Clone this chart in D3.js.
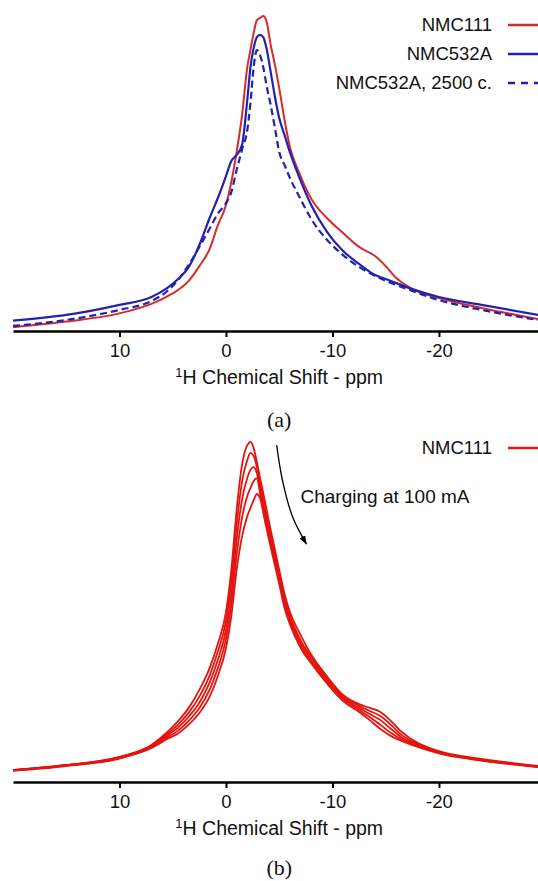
<!DOCTYPE html>
<html>
<head>
<meta charset="utf-8">
<script src="https://cdn.jsdelivr.net/npm/d3@7"></script>
<style>
  body { margin: 0; background: #fff; }
  svg { display: block; }
  text { font-family: "Liberation Sans", Arial, sans-serif; fill: #111; }
  .caption { font-family: "Liberation Serif", "DejaVu Serif", serif; }
</style>
</head>
<body>
<div id="chart"></div>
<script>
// chemical shift grid of panel (a), ppm
let ppmA = [20, 15, 10, 7, 5.5, 4.5, 3.5, 2.5, 1.5, 0.8, 0, -0.5, -1, -1.5, -2, -2.3, -2.6, -2.9, -3.2, -3.5,
            -3.8, -4.2, -4.6, -5, -5.5, -6, -6.8, -8, -9.5, -11, -12.5, -14, -15, -16, -17.5, -20, -24, -29.3];
// intensities, normalised to the NMC111 peak
let nmc111 = [0.012, 0.030, 0.056, 0.086, 0.110, 0.130, 0.159, 0.206, 0.263, 0.333, 0.400, 0.473, 0.568, 0.683, 0.838, 0.892, 0.946, 0.987, 0.994, 1.000,
              0.984, 0.908, 0.844, 0.771, 0.670, 0.585, 0.508, 0.420, 0.358, 0.311, 0.267, 0.238, 0.206, 0.168, 0.133, 0.105, 0.073, 0.038];
let nmc532a = [0.033, 0.051, 0.083, 0.108, 0.137, 0.165, 0.203, 0.273, 0.362, 0.419, 0.492, 0.540, 0.559, 0.590, 0.733, 0.838, 0.898, 0.933, 0.940, 0.933,
               0.898, 0.822, 0.743, 0.676, 0.622, 0.568, 0.495, 0.400, 0.314, 0.254, 0.213, 0.178, 0.165, 0.152, 0.133, 0.108, 0.083, 0.051];
let nmc532a2500 = [0.016, 0.035, 0.067, 0.095, 0.127, 0.162, 0.210, 0.267, 0.327, 0.371, 0.406, 0.441, 0.511, 0.575, 0.638, 0.724, 0.838, 0.892, 0.876, 0.838,
                   0.781, 0.717, 0.644, 0.568, 0.527, 0.486, 0.432, 0.356, 0.289, 0.241, 0.203, 0.175, 0.159, 0.146, 0.127, 0.098, 0.067, 0.035];

// chemical shift grid of panel (b), ppm
let ppmB = [20, 15, 10, 7, 5.5, 4.5, 3.5, 2.5, 1.5, 0.8, 0, -0.5, -1, -1.5, -2, -2.3, -2.6, -2.9, -3.2, -3.6,
            -4, -4.5, -5, -5.5, -6, -7, -8, -9.5, -11, -12.5, -13.5, -14.5, -15.5, -16.5, -18, -20, -24, -29.3];
// NMC111 spectra during charging at 100 mA, first to last
let charge1 = [0.035, 0.050, 0.074, 0.109, 0.147, 0.179, 0.218, 0.271, 0.338, 0.403, 0.500, 0.624, 0.800, 0.932, 0.991, 1.000, 0.982, 0.941, 0.894, 0.835,
               0.771, 0.697, 0.624, 0.553, 0.500, 0.433, 0.375, 0.310, 0.256, 0.229, 0.218, 0.206, 0.179, 0.147, 0.115, 0.091, 0.068, 0.047];
let charge2 = [0.035, 0.050, 0.073, 0.107, 0.142, 0.169, 0.204, 0.251, 0.316, 0.380, 0.474, 0.588, 0.756, 0.882, 0.947, 0.968, 0.959, 0.926, 0.879, 0.821,
               0.757, 0.685, 0.613, 0.543, 0.490, 0.417, 0.368, 0.305, 0.251, 0.224, 0.209, 0.194, 0.168, 0.138, 0.112, 0.089, 0.066, 0.046];
let charge3 = [0.035, 0.049, 0.072, 0.105, 0.137, 0.160, 0.192, 0.233, 0.295, 0.356, 0.447, 0.553, 0.712, 0.829, 0.894, 0.918, 0.926, 0.909, 0.865, 0.806,
               0.744, 0.674, 0.603, 0.532, 0.482, 0.410, 0.362, 0.299, 0.247, 0.218, 0.200, 0.182, 0.156, 0.131, 0.109, 0.088, 0.065, 0.045];
let charge4 = [0.034, 0.048, 0.070, 0.102, 0.132, 0.151, 0.180, 0.218, 0.274, 0.332, 0.421, 0.521, 0.668, 0.776, 0.841, 0.865, 0.885, 0.894, 0.850, 0.791,
               0.731, 0.662, 0.593, 0.522, 0.473, 0.402, 0.355, 0.294, 0.243, 0.212, 0.191, 0.168, 0.144, 0.125, 0.106, 0.086, 0.064, 0.044];
let charge5 = [0.033, 0.047, 0.069, 0.100, 0.127, 0.143, 0.169, 0.203, 0.253, 0.309, 0.394, 0.488, 0.624, 0.721, 0.782, 0.806, 0.829, 0.847, 0.835, 0.776,
               0.718, 0.650, 0.582, 0.512, 0.464, 0.395, 0.349, 0.289, 0.238, 0.206, 0.182, 0.156, 0.135, 0.121, 0.103, 0.084, 0.063, 0.044];

let xTicks = [10, 0, -10, -20];
let legendA = ["NMC111", "NMC532A", "NMC532A, 2500 c."];
let legendB = ["NMC111"];
let arrowNote = "Charging at 100 mA";

let width = 538;
let height = 881;
let redA = "#d42b2b";
let blueA = "#2222b0";
let redB = "#e4140f";

let X = d3.scaleLinear()
  .domain([20, -29.3])            // plot is cut at the right edge of the picture
  .range([13, 538]);
let xMid = X(-5);                 // centre of the full 20 .. -30 ppm axis

let svg = d3.select("#chart")
  .append("svg")
  .attr("width", width)
  .attr("height", height);

function drawAxis(y0, label, caption, captionY)
{
  let g = svg.append("g")
    .attr("transform", "translate(0," + y0 + ")")
    .call(d3.axisBottom(X).tickValues(xTicks).tickSize(6).tickSizeOuter(0).tickPadding(7)
      .tickFormat(function(d) { return String(d); }));    // plain hyphen, as in the original
  g.select(".domain").attr("stroke", "#000").attr("stroke-width", 2.4);
  g.selectAll(".tick line").attr("stroke", "#000").attr("stroke-width", 2);
  g.selectAll(".tick text")
    .style("font-family", "Liberation Sans, Arial, sans-serif")
    .style("font-size", "18.5px")
    .attr("fill", "#111");

  let t = svg.append("text")
    .attr("x", xMid)
    .attr("y", y0 + 53)
    .attr("text-anchor", "middle")
    .style("font-size", "19.5px");
  t.append("tspan").attr("dy", "-7").style("font-size", "13px").text(label[0]);
  t.append("tspan").attr("dy", "7").text(label[1]);

  svg.append("text")
    .attr("class", "caption")
    .attr("x", xMid)
    .attr("y", captionY)
    .attr("text-anchor", "middle")
    .style("font-size", "22px")
    .attr("fill", "#333")
    .text(caption);
}

function drawCurve(ppm, values, Y, color, dash, lw)
{
  let line = d3.line()
    .x(function(d, i) { return X(ppm[i]); })
    .y(function(d) { return Y(d); })
    .curve(d3.curveMonotoneX);
  svg.append("path")
    .datum(values)
    .attr("d", line)
    .attr("fill", "none")
    .attr("stroke", color)
    .attr("stroke-width", lw)
    .attr("stroke-dasharray", dash)
    .attr("stroke-linejoin", "round");
}

function drawLegend(labels, colors, dashes, y0)
{
  labels.forEach(function(name, i) {
    let y = y0 + i * 29;
    svg.append("text")
      .attr("x", 492)
      .attr("y", y)
      .attr("dy", "0.35em")
      .attr("text-anchor", "end")
      .style("font-size", "18.5px")
      .text(name);
    svg.append("line")
      .attr("x1", 508).attr("x2", 545)
      .attr("y1", y).attr("y2", y)
      .attr("stroke", colors[i])
      .attr("stroke-width", 2.6)
      .attr("stroke-dasharray", dashes[i]);
  });
}

// panel (a)
let YA = d3.scaleLinear().domain([0, 1]).range([331, 16]);
drawCurve(ppmA, nmc111, YA, redA, null, 2);
drawCurve(ppmA, nmc532a, YA, blueA, null, 2.2);
drawCurve(ppmA, nmc532a2500, YA, blueA, "7,4", 2.2);
drawAxis(331, ["1", "H Chemical Shift - ppm"], "(a)", 427);
drawLegend(legendA, [redA, blueA, blueA], [null, null, "7,6"], 25);

// panel (b)
let YB = d3.scaleLinear().domain([0, 1]).range([782, 442]);
[charge1, charge2, charge3, charge4, charge5].forEach(function(s) {
  drawCurve(ppmB, s, YB, redB, null, 1.8);
});
drawAxis(782, ["1", "H Chemical Shift - ppm"], "(b)", 875);
drawLegend(legendB, [redB], [null], 448);

// curved arrow with its note, placed in data units
let arrowPts = [[-4.76, 0.991], [-5.3, 0.888], [-6.25, 0.78], [-7.55, 0.70]];
svg.append("defs").append("marker")
  .attr("id", "head")
  .attr("viewBox", "0 0 10 10")
  .attr("refX", 9).attr("refY", 5)
  .attr("markerWidth", 7).attr("markerHeight", 7)
  .attr("orient", "auto")
  .append("path")
  .attr("d", "M0,1.5L10,5L0,8.5z")
  .attr("fill", "#000");
svg.append("path")
  .datum(arrowPts)
  .attr("d", d3.line().x(d => X(d[0])).y(d => YB(d[1])).curve(d3.curveCatmullRom))
  .attr("fill", "none")
  .attr("stroke", "#000")
  .attr("stroke-width", 1.3)
  .attr("marker-end", "url(#head)");
svg.append("text")
  .attr("x", X(-7.0))
  .attr("y", YB(0.82))
  .style("font-size", "19px")
  .text(arrowNote);
</script>
</body>
</html>
